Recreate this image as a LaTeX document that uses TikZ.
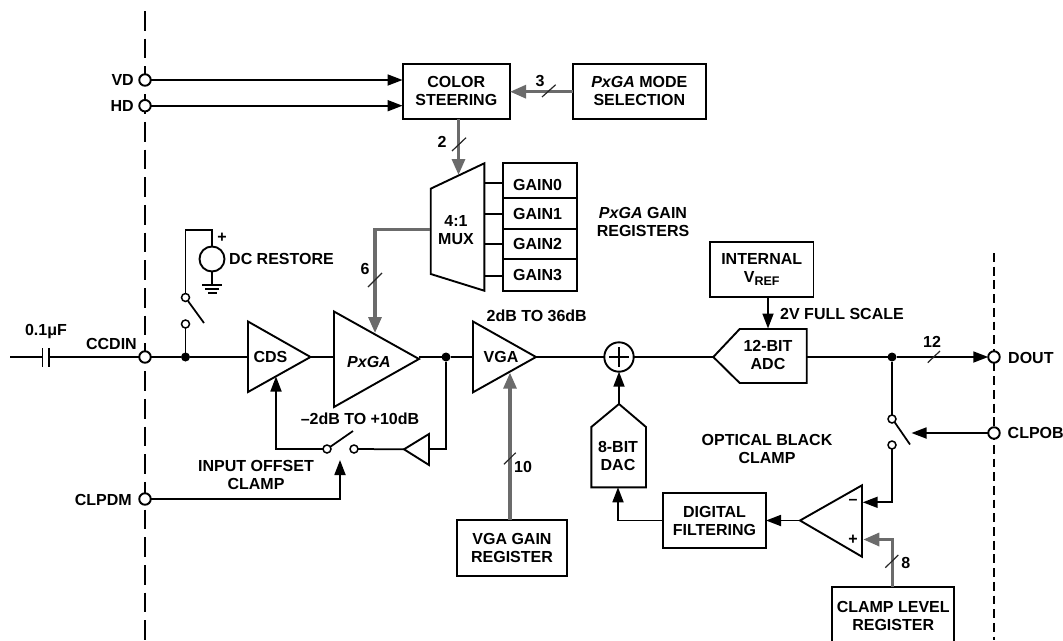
\documentclass[tikz,border=0pt]{standalone}
\usepackage{fontspec}
\setmainfont{Liberation Sans}
\usetikzlibrary{arrows.meta,calc}
\definecolor{busgray}{HTML}{6B6B6B}
\tikzset{
  wire/.style={line width=1.75pt,black,line join=miter},
  arrowwire/.style={wire,-{Triangle[length=15pt,width=11pt]}},
  bus/.style={line width=3.2pt,busgray,line join=miter},
  busarrow/.style={bus,-{Triangle[length=16pt,width=13pt]}},
  slash/.style={line width=1.2pt,black!85},
  shape line/.style={line width=1.9pt,black,line join=miter,fill=white},
  txt/.style={font=\fontsize{16}{18}\selectfont\bfseries,align=center,inner sep=0pt,black},
  boxx/.style={txt,draw,line width=1.9pt,rectangle,outer sep=0pt},
  term/.style={circle,draw,line width=1.9pt,fill=white,minimum size=11.5pt,inner sep=0pt,outer sep=0pt},
  swc/.style={circle,draw,line width=1.5pt,fill=white,minimum size=8pt,inner sep=0pt,outer sep=0pt},
  dot/.style={circle,fill=black,minimum size=9pt,inner sep=0pt,outer sep=0pt},
}
\newcommand{\boxat}[6]{\node[boxx,minimum width=#4pt,minimum height=#5pt] (#1) at (#2,#3) {#6};}
\begin{document}
\begin{tikzpicture}[x=1pt,y=-1pt]
\useasboundingbox (0,0) rectangle (1063,640);
% dashed boundaries
\draw[line width=1.8pt,dash pattern=on 19.7pt off 8pt] (145,11) -- (145,640);
\draw[line width=1.8pt,dash pattern=on 8.8pt off 4.9pt] (994,253) -- (994,640);
% blocks
\boxat{color}{456.3}{91.3}{107.5}{54.7}{COLOR\\STEERING}
\boxat{mode}{639.3}{91.3}{133.3}{54.7}{\textit{PxGA} MODE\\SELECTION}
\boxat{g0}{539.7}{180.65}{74}{34.7}{}
\boxat{g1}{539.7}{213.35}{74}{30.7}{}
\boxat{g2}{539.7}{243.85}{74}{30.3}{}
\boxat{g3}{539.7}{274.85}{74}{31.7}{}
\boxat{vref}{761.7}{269.2}{103.5}{55}{INTERNAL\\V\raisebox{-3pt}{\fontsize{12.5}{12.5}\selectfont REF}}
\boxat{vgagain}{512}{547.8}{109.4}{55.7}{VGA GAIN\\REGISTER}
\boxat{filt}{714.5}{520.6}{103}{55.3}{DIGITAL\\FILTERING}
\boxat{clamp}{893.2}{616}{122.3}{58.6}{CLAMP LEVEL\\REGISTER}
% polygon shapes: vertices
\coordinate (muxa) at (430.7,188.7); \coordinate (muxb) at (484.3,163.3);
\coordinate (muxc) at (484.3,290.7); \coordinate (muxd) at (430.7,274);
\coordinate (cdsa) at (248,321.5); \coordinate (cdsb) at (310.5,357); \coordinate (cdsc) at (248,392);
\coordinate (pxa) at (334,311.5); \coordinate (pxb) at (419,359); \coordinate (pxc) at (334,407);
\coordinate (vgaa) at (473,321.5); \coordinate (vgab) at (536,357); \coordinate (vgac) at (473,392.3);
\coordinate (bufa) at (429,434); \coordinate (bufb) at (404,449.3); \coordinate (bufc) at (429,465);
\coordinate (cmpa) at (862,485.3); \coordinate (cmpb) at (800,520.5); \coordinate (cmpc) at (862,556.7);
\coordinate (adctip) at (713.3,357);
\coordinate (dacapex) at (619,404);
% shapes
\draw[shape line] (muxa) -- (muxb) -- (muxc) -- (muxd) -- cycle;
\draw[shape line] (cdsa) -- (cdsb) -- (cdsc) -- cycle;
\draw[shape line] (pxa) -- (pxb) -- (pxc) -- cycle;
\draw[shape line] (vgaa) -- (vgab) -- (vgac) -- cycle;
\draw[shape line] (bufa) -- (bufb) -- (bufc) -- cycle;
\draw[shape line] (cmpa) -- (cmpb) -- (cmpc) -- cycle;
\draw[shape line] (adctip) -- (739.7,329) -- (806.7,329) -- (806.7,383) -- (739.7,383) -- cycle;
\draw[shape line] (dacapex) -- (646,427) -- (646,487.3) -- (591.3,487.3) -- (591.3,427) -- cycle;
% terminals and junctions
\node[term] (vd) at (145,80) {};
\node[term] (hd) at (145,105.7) {};
\node[term] (ccdin) at (145,357) {};
\node[term] (clpdm) at (145,499) {};
\node[term] (dout) at (994,357) {};
\node[term] (clpob) at (994,433) {};
\coordinate (capl) at (42.5,357); \coordinate (capr) at (49,357); \coordinate (instart) at (10,357);
\node[dot] (j1) at (185.5,357) {};
\node[dot] (j2) at (446,357) {};
\node[dot] (j3) at (892,357) {};
\node[circle,draw,line width=1.9pt,minimum size=25pt,inner sep=0pt,outer sep=0pt] (src) at (212,259) {};
\coordinate (srctop) at (212,230);
\coordinate (gnd) at (212,285);
\node[swc] (s1a) at (185.5,297.5) {};
\node[swc] (s1b) at (185.5,324) {};
\node[swc] (s2a) at (327,449) {};
\node[swc] (s2b) at (354,449) {};
\node[swc] (s3a) at (892,419) {};
\node[swc] (s3b) at (892,445) {};
\node[circle,draw,line width=1.9pt,minimum size=29.4pt,inner sep=0pt,outer sep=0pt] (sum) at (619,357) {};
% wires
\draw[wire] (instart) -- (capl);
\draw[wire] (capr) -- (ccdin);
\draw[line width=1.9pt] (42.5,348) -- (42.5,367) (49,348) -- (49,367);
\draw[wire] (ccdin) -- (j1) -- (cdsa |- j1);
\draw[wire] (j1) -- (s1b);
\draw[wire] (s1a) |- (srctop) -- (src);
\draw[wire] (src) -- (gnd);
\draw[wire] (202,285) -- (222,285) (205,289) -- (219,289) (208,293) -- (217,293);
\draw[wire] (188,301) -- (204,323);
\draw[wire] (cdsb) -- (pxa |- cdsb);
\draw[wire] (pxb |- j2) -- (j2) -- (vgaa |- j2);
\draw[wire] (j2) |- (bufa |- bufb);
\draw[wire] (bufb) -- (s2b);
\draw[wire] (330,447) -- (353,431);
\coordinate (cdsarrow) at (276,376.5);
\draw[arrowwire] (s2a) -| (cdsarrow);
\coordinate (s2ctl) at (340,460);
\draw[arrowwire] (clpdm) -| (s2ctl);
\draw[arrowwire] (vd) -- (color.west |- vd);
\draw[arrowwire] (hd) -- (color.west |- hd);
\draw[wire] (vgab) -- (sum);
\draw[wire] (sum) -- (adctip);
\draw[wire] (806.7,357) -- (j3);
\draw[arrowwire] (j3) -- (dout);
\draw[wire] (j3) -- (s3a);
\draw[wire] (894.5,422) -- (910,444.5);
\coordinate (s3ctl) at (911.5,433);
\draw[arrowwire] (clpob) -- (s3ctl);
\coordinate (cmpminus) at (862.7,502.3);
\draw[arrowwire] (s3b) |- (cmpminus);
\draw[arrowwire] (cmpb) -- (filt.east |- cmpb);
\coordinate (dacbot) at (618,487.3);
\draw[arrowwire] (filt.west) -| (dacbot);
\draw[arrowwire] (dacapex) -- (sum.south);
\coordinate (adctop) at (768,328.5);
\draw[arrowwire] (vref.south -| adctop) -- (adctop);
% mux legs
\coordinate (m0) at (484.3,183.3); \coordinate (m1) at (484.3,213.7);
\coordinate (m2) at (484.3,244.3); \coordinate (m3) at (484.3,276);
\draw[wire] (m0) -- (g0.west |- m0);
\draw[wire] (m1) -- (g1.west |- m1);
\draw[wire] (m2) -- (g2.west |- m2);
\draw[wire] (m3) -- (g3.west |- m3);
% buses
\draw[busarrow] (mode.west |- 0,91.7) -- (color.east |- 0,91.7);
\coordinate (muxtop) at (458.5,175);
\draw[busarrow] (color.south -| muxtop) -- (muxtop);
\coordinate (muxout) at (430,229.5); \coordinate (pxin) at (375,333);
\draw[busarrow] (muxout) -| (pxin);
\coordinate (vgain) at (510,372.7);
\draw[busarrow] (vgagain.north -| vgain) -- (vgain);
\coordinate (cmpplus) at (863.3,539.5);
\draw[busarrow] (clamp.north -| 892.7,0) |- (cmpplus);
% sum plus
\draw[wire] (609,357) -- (629,357) (619,347) -- (619,367);
% bus slashes
\draw[slash] (542,97) -- (555.7,84.7);
\draw[slash] (452,151) -- (466,137.7);
\draw[slash] (368,287) -- (382,273);
\draw[slash] (504,464.3) -- (515.7,452.7);
\draw[slash] (885.3,567.7) -- (898.3,555);
\draw[slash] (927.7,362.7) -- (940,351);
% labels
\node[txt] (t1) at (46,332) {0.1μF};
\node[txt,anchor=east] (t2) at (137,343.5) {CCDIN};
\node[txt,anchor=east] (t3) at (134,80) {VD};
\node[txt,anchor=east] (t4) at (134,106) {HD};
\node[txt,anchor=east] (t5) at (132,499.5) {CLPDM};
\node[txt,anchor=west] (t6) at (1008,357.5) {DOUT};
\node[txt,anchor=west] (t7) at (1007.5,433) {CLPOB};
\node[txt] (t8) at (222,238) {+};
\node[txt,anchor=west] (t9) at (229,258.5) {DC RESTORE};
\node[txt] (t10) at (270.5,357) {CDS};
\node[txt] (t11) at (369,362) {\textit{PxGA}};
\node[txt] (t12) at (360,419) {–2dB TO +10dB};
\node[txt] (t13) at (256,475) {INPUT OFFSET\\CLAMP};
\node[txt] (t14) at (501,357) {VGA};
\node[txt] (t15) at (456,230) {4:1\\MUX};
\node[txt] (g0t) at (537.5,184.7) {GAIN0};
\node[txt] (g1t) at (537.5,214) {GAIN1};
\node[txt] (g2t) at (537.5,244) {GAIN2};
\node[txt] (g3t) at (537.5,274.7) {GAIN3};
\node[txt] (t16) at (643,222) {\textit{PxGA} GAIN\\REGISTERS};
\node[txt] (t17) at (536.7,315.7) {2dB TO 36dB};
\node[txt] (t18) at (842,314.3) {2V FULL SCALE};
\node[txt] (t19) at (768,355) {12-BIT\\ADC};
\node[txt] (t20) at (618,456) {8-BIT\\DAC};
\node[txt] (t21) at (767,449.3) {OPTICAL BLACK\\CLAMP};
\node[txt] (t22) at (853,502) {–};
\node[txt] (t23) at (853,540) {+};
\node[txt] (t24) at (540,80.7) {3};
\node[txt] (t25) at (442,141.7) {2};
\node[txt] (t26) at (365,269) {6};
\node[txt] (t27) at (523,467) {10};
\node[txt] (t28) at (905.7,562.7) {8};
\node[txt] (t29) at (932,341.7) {12};
\end{tikzpicture}
\end{document}
